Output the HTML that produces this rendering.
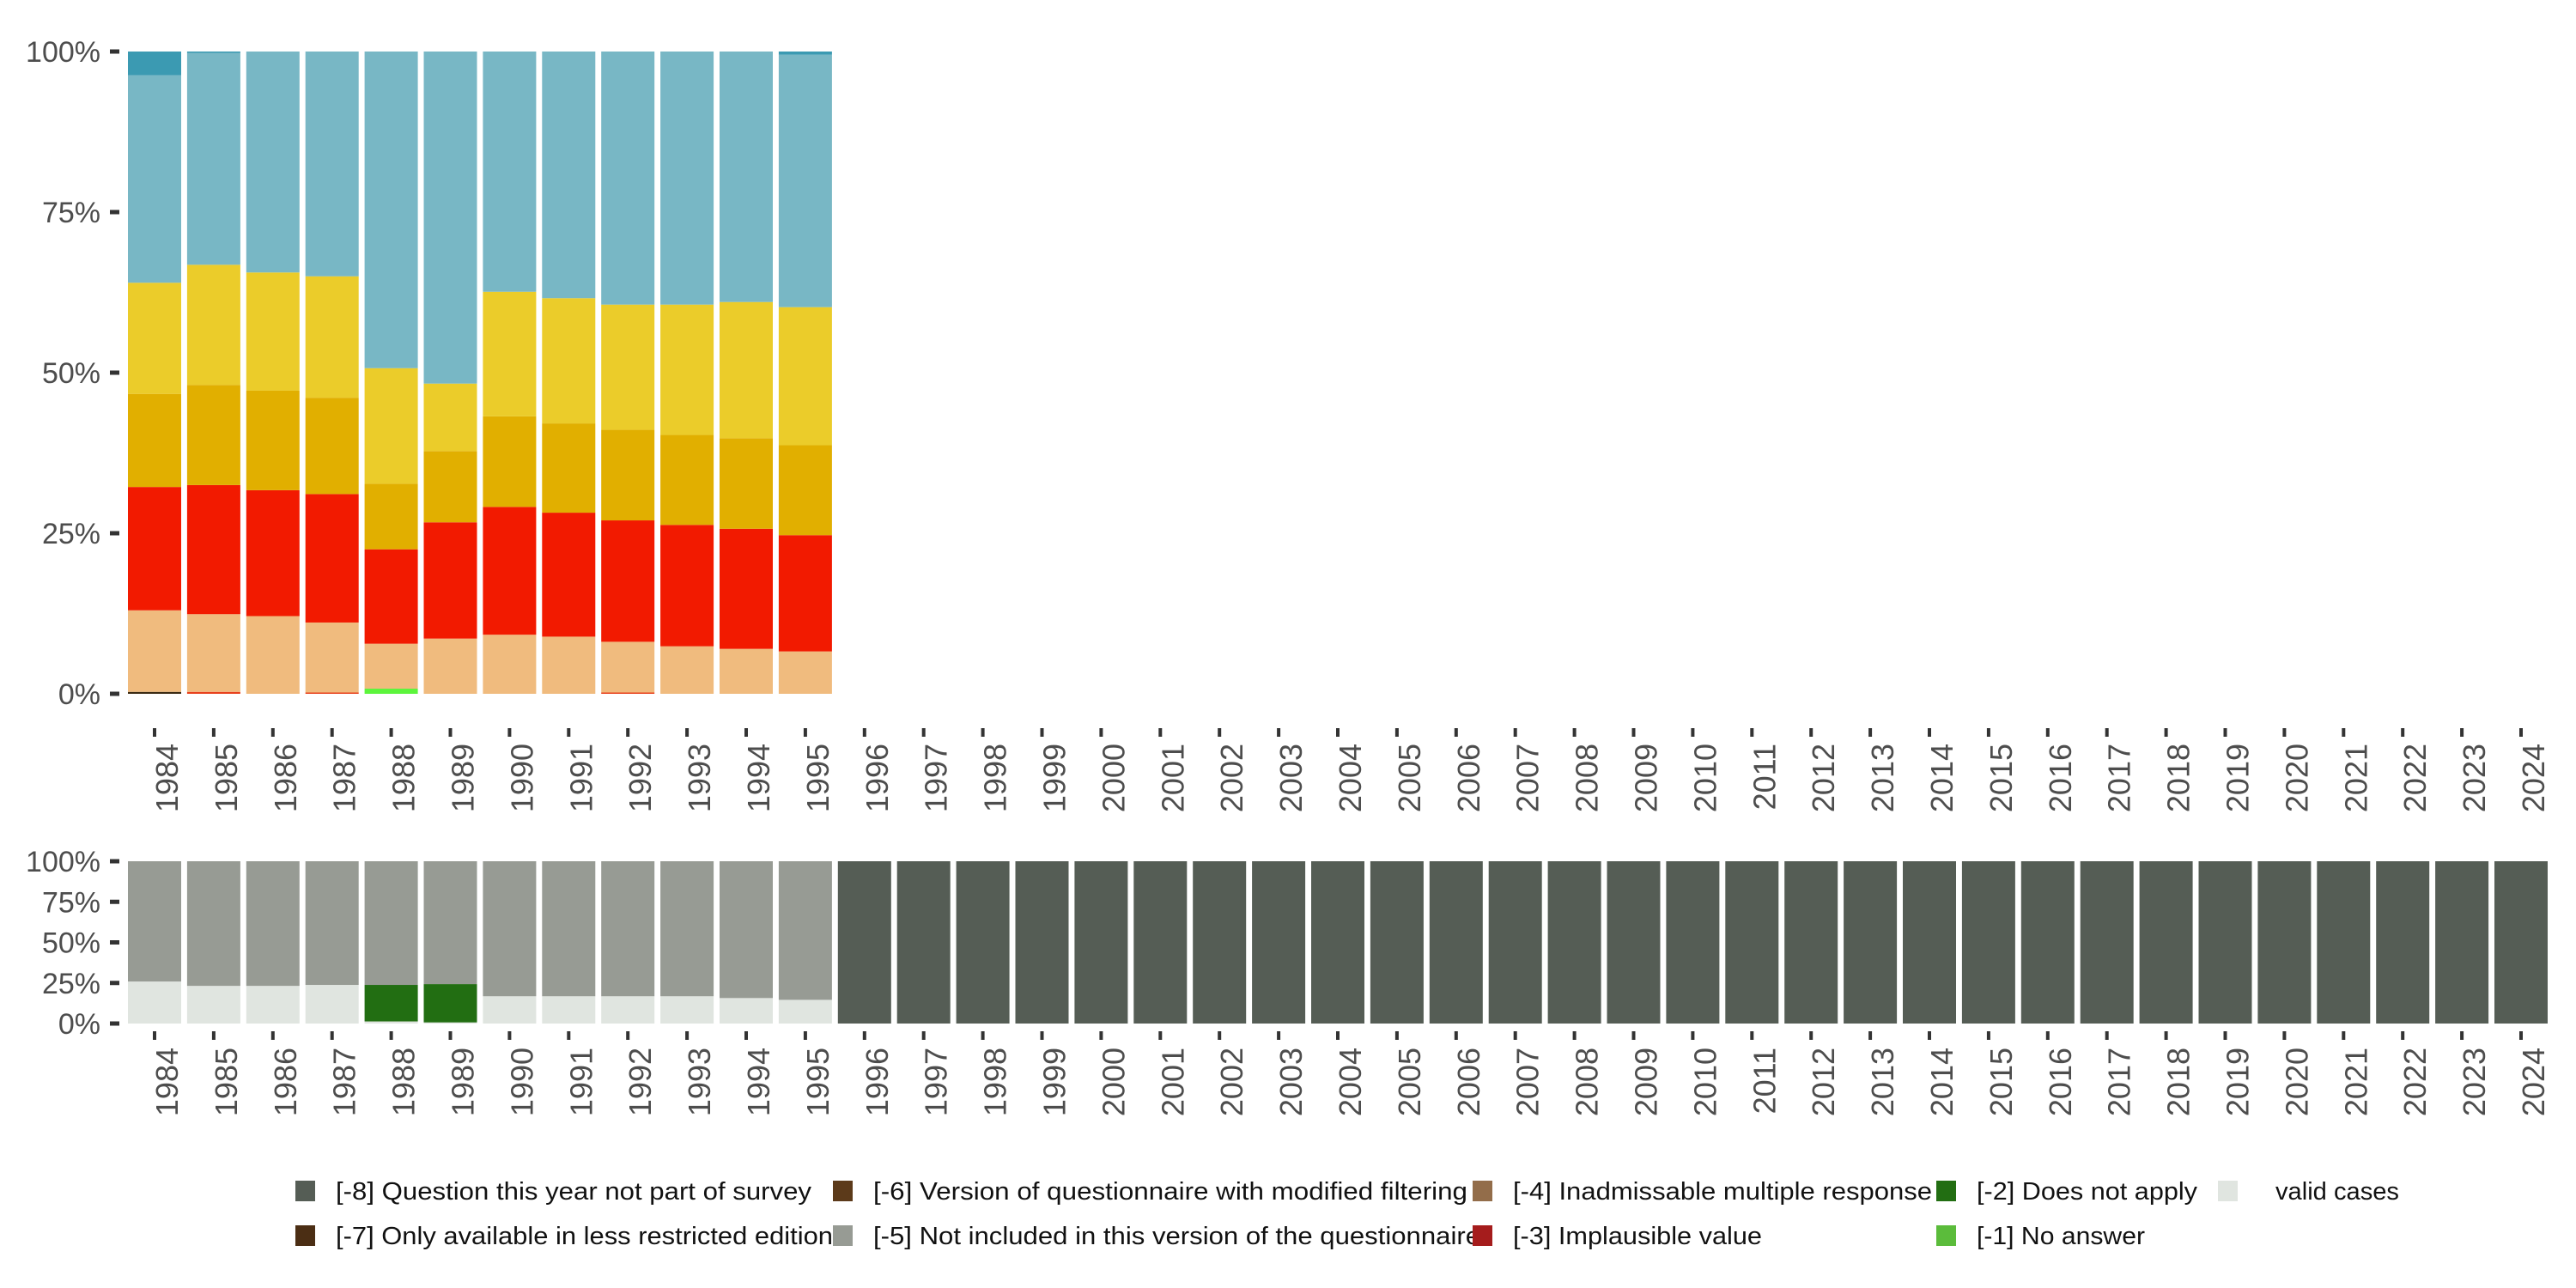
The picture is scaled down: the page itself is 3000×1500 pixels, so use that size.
<!DOCTYPE html>
<html><head><meta charset="utf-8"><style>
html,body{margin:0;padding:0;background:#fff;}
svg{display:block;font-family:"Liberation Sans",sans-serif;}
</style></head><body>
<svg id="chart" width="3000" height="1500" viewBox="0 0 3000 1500" xmlns="http://www.w3.org/2000/svg">
<g id="top"></g>
<g id="bottom"></g>
<g id="legend"></g>
</svg>
<script>
const years = [];
for (let y = 1984; y <= 2024; y++) years.push(String(y));
// Top panel: categories (percent), bottom to top, years 1984..1995
const topMissingDark = [0.3,0,0,0,0,0,0,0,0,0,0,0];
const topMissingRed = [0,0.3,0,0.2,0,0,0,0,0.2,0,0,0];
const topNoAnswer = [0,0,0,0,0.8,0,0,0,0,0,0,0];
const topCat1 = [12.7,12.1,12.1,10.9,7.0,8.6,9.2,8.9,7.9,7.4,7.0,6.6];
const topCat2 = [19.2,20.1,19.6,20.0,14.7,18.1,19.9,19.3,18.9,18.9,18.7,18.1];
const topCat3 = [14.5,15.6,15.5,15.0,10.2,11.1,14.1,13.9,14.1,14.0,14.1,14.0];
const topCat4 = [17.3,18.7,18.4,18.9,18.0,10.5,19.4,19.5,19.5,20.3,21.2,21.5];
const topCat5 = [32.3,33.0,34.4,35.0,49.3,51.7,37.4,38.4,39.4,39.4,39.0,39.3];
const topCat6 = [3.7,0.2,0,0,0,0,0,0,0,0,0,0.5];
const topColors = ["#3A2A12","#E8401C","#5CF53C","#F0BB7E","#F21A00","#E1AF00","#EBCC2A","#78B7C5","#3B9AB2"];
// Bottom panel: response status (percent)
const botValid = [25.9,23.2,23.2,23.8,1.3,0.7,16.8,16.8,16.8,16.8,15.7,14.6];
const botNotApply = [0,0,0,0,22.5,23.6,0,0,0,0,0,0];
const botNotIncluded = [74.1,76.8,76.8,76.2,76.2,75.7,83.2,83.2,83.2,83.2,84.3,85.4];
const botNotSurvey = years.map((y,i)=> i<12 ? 0 : 100);
const botColors = ["#E0E5E0","#226E12","#979B94","#555D55"];
const yTicks = ["0%","25%","50%","75%","100%"];
const legendLabels = ["[-8] Question this year not part of survey","[-7] Only available in less restricted edition","[-6] Version of questionnaire with modified filtering","[-5] Not included in this version of the questionnaire","[-4] Inadmissable multiple response","[-3] Implausible value","[-2] Does not apply","[-1] No answer","valid cases"];
const legendColors = ["#555D55","#4B2E14","#5C3A1A","#979B94","#936D4A","#A51C1C","#226E12","#5BBC3B","#E0E5E0"];
const legendWidths = [554,579,692,707,488,290,257,196,144];

const NS = "http://www.w3.org/2000/svg";
function mk(tag, attrs, parent){const e=document.createElementNS(NS,tag);for(const k in attrs)e.setAttribute(k,attrs[k]);parent.appendChild(e);return e;}
const x0 = 180, pitch = 68.9, bw = 62;
function xC(i){return x0 + i*pitch;}

function panel(g, yTop, yBot, series, colors, tickY, labY, ylabFs, prefix){
  const yS = v => yBot - (yBot-yTop)*v/100;
  years.forEach((yr,i)=>{
    let acc = 0;
    series.forEach((s,k)=>{
      const v = s[i]||0;
      if (v<=0) return;
      const r = mk("rect",{x:xC(i)-bw/2,y:yS(acc+v),width:bw,height:yS(acc)-yS(acc+v),fill:colors[k]},g);
      
      
      acc += v;
    });
    const t = mk("rect",{x:xC(i)-2,y:tickY,width:4,height:10,fill:"#333"},g);
    
    
    const tx = mk("text",{transform:`translate(${xC(i)+27},${labY}) rotate(-90)`,"text-anchor":"end","font-size":36,fill:"#4D4D4D"},g);
    tx.textContent = yr;
    
    
  });
  yTicks.forEach((lab,j)=>{
    const y = yS(j*25);
    const t = mk("rect",{x:128,y:y-2.5,width:11,height:5,fill:"#333"},g);
    
    
    const tx = mk("text",{x:117,y:y+ylabFs*0.36,"text-anchor":"end","font-size":ylabFs,fill:"#4D4D4D"},g);
    tx.textContent = lab;
    
    
  });
}
panel(document.getElementById("top"),60,808,[topMissingDark,topMissingRed,topNoAnswer,topCat1,topCat2,topCat3,topCat4,topCat5,topCat6],topColors,848,866,34,"top");
panel(document.getElementById("bottom"),1003,1192,[botValid,botNotApply,botNotIncluded,botNotSurvey],botColors,1201,1220,34,"bottom");

const lg = document.getElementById("legend");
const colX = [344,970,1715,2255,2583];
legendLabels.forEach((lab,i)=>{
  const c = Math.floor(i/2), r = i%2;
  const ky = r===0 ? 1375 : 1427;
  const k = mk("rect",{x:colX[c],y:ky,width:23,height:24,fill:legendColors[i]},lg);
  
  
  const tx = mk("text",{x:colX[c]+(c===4?67:47),y:ky+22,"font-size":29,fill:"#111",textLength:legendWidths[i],lengthAdjust:"spacingAndGlyphs"},lg);
  tx.textContent = lab;
  
  
});
</script>
</body></html>
